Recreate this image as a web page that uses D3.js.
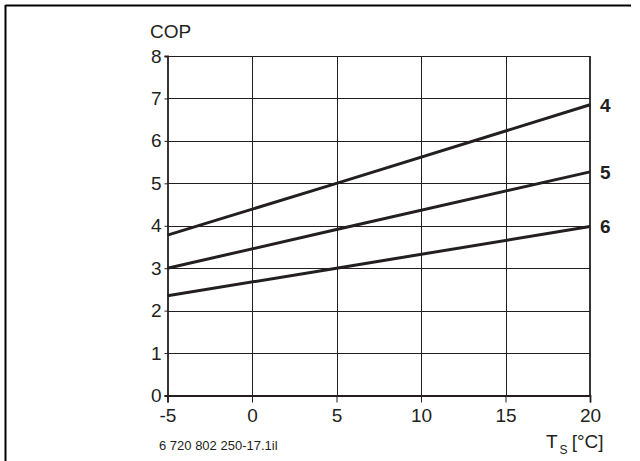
<!DOCTYPE html>
<html><head><meta charset="utf-8">
<script src="https://cdn.jsdelivr.net/npm/d3@7"></script>
<style>
html,body{margin:0;padding:0;background:#fff;}
svg text{font-family:"Liberation Sans",Arial,Helvetica,sans-serif;fill:#231f20;}
</style></head>
<body>
<svg id="chart" width="640" height="461"></svg>
<script>
const xTicks = [-5, 0, 5, 10, 15, 20];
const yTicks = [0, 1, 2, 3, 4, 5, 6, 7, 8];
const temps = [-5, 5, 20];
const seriesNames = ["4", "5", "6"];
const cop4 = [3.78, 5.0, 6.85];
const cop5 = [3.0, 3.91, 5.27];
const cop6 = [2.35, 3.0, 3.98];
const seriesValues = [cop4, cop5, cop6];

const svg = d3.select("#chart");
const x = d3.scaleLinear().domain([-5, 20]).range([167.5, 590]);
const y = d3.scaleLinear().domain([0, 8]).range([395.5, 56]);
const ink = "#231f20";

// frame (left and top edges)
svg.append("line").attr("x1", 5.5).attr("x2", 631).attr("y1", 5.5).attr("y2", 5.5)
  .attr("stroke", "#000").attr("stroke-width", 2);
svg.append("line").attr("x1", 5.5).attr("x2", 5.5).attr("y1", 5).attr("y2", 461)
  .attr("stroke", "#000").attr("stroke-width", 2);

// grid
const g = svg.append("g");
g.selectAll("line.hg").data(yTicks.filter(d => d > 0)).join("line")
  .attr("x1", x(-5)).attr("x2", x(20))
  .attr("y1", d => Math.round(y(d)) + 0.5).attr("y2", d => Math.round(y(d)) + 0.5)
  .attr("stroke", ink).attr("stroke-width", 1);
g.selectAll("line.vg").data(xTicks.filter(d => d > -5 && d < 20)).join("line")
  .attr("x1", d => Math.round(x(d)) + 0.5).attr("x2", d => Math.round(x(d)) + 0.5)
  .attr("y1", y(8)).attr("y2", y(0))
  .attr("stroke", ink).attr("stroke-width", 1);

// x axis
const xAxis = d3.axisBottom(x).tickValues(xTicks).tickSize(7).tickPadding(6).tickFormat(d3.format("d"));
const gx = svg.append("g").attr("transform", `translate(0,${y(0)})`).call(xAxis);
gx.select(".domain").attr("stroke", ink).attr("stroke-width", 1.8);
gx.selectAll(".tick line").attr("stroke", ink).attr("stroke-width", 1);
gx.selectAll(".tick text").attr("font-size", 19).attr("fill", ink)
  .attr("font-family", "Liberation Sans, Arial, sans-serif")
  .text(d => d < 0 ? "-" + Math.abs(d) : d);

// y axis
const yAxis = d3.axisLeft(y).tickValues(yTicks).tickSize(3).tickPadding(3).tickFormat(d3.format("d"));
const gy = svg.append("g").attr("transform", `translate(${x(-5)},0)`).call(yAxis);
gy.select(".domain").attr("stroke", ink).attr("stroke-width", 1.8);
gy.selectAll(".tick line").attr("stroke", ink).attr("stroke-width", 1);
gy.selectAll(".tick text").attr("font-size", 19).attr("fill", ink)
  .attr("font-family", "Liberation Sans, Arial, sans-serif");

// right edge at x=20
svg.append("line").attr("x1", x(20)).attr("x2", x(20)).attr("y1", y(8)).attr("y2", y(0))
  .attr("stroke", ink).attr("stroke-width", 1.8);

// series lines
const line = d3.line().x((d, i) => x(temps[i])).y(d => y(d));
svg.selectAll("path.series").data(seriesValues).join("path")
  .attr("class", "series")
  .attr("d", d => line(d))
  .attr("fill", "none").attr("stroke", ink).attr("stroke-width", 3);

// series labels
svg.selectAll("text.slab").data(seriesValues).join("text")
  .attr("class", "slab")
  .attr("x", x(20) + 10).attr("y", d => y(d[d.length - 1]))
  .attr("dy", "0.36em")
  .attr("font-size", 19).attr("font-weight", "bold")
  .text((d, i) => seriesNames[i]);

// axis titles
svg.append("text").attr("x", 150).attr("y", 38).attr("font-size", 19).text("COP");
const xt = svg.append("text").attr("x", 546).attr("y", 448).attr("font-size", 19);
xt.append("tspan").text("T");
xt.append("tspan").attr("font-size", 12).attr("dx", 2).attr("dy", 6).text("S");
xt.append("tspan").attr("dx", 4).attr("dy", -6).text("[°C]");

// footnote
svg.append("text").attr("x", 159).attr("y", 450).attr("font-size", 13).text("6 720 802 250-17.1il");
</script>
</body></html>
